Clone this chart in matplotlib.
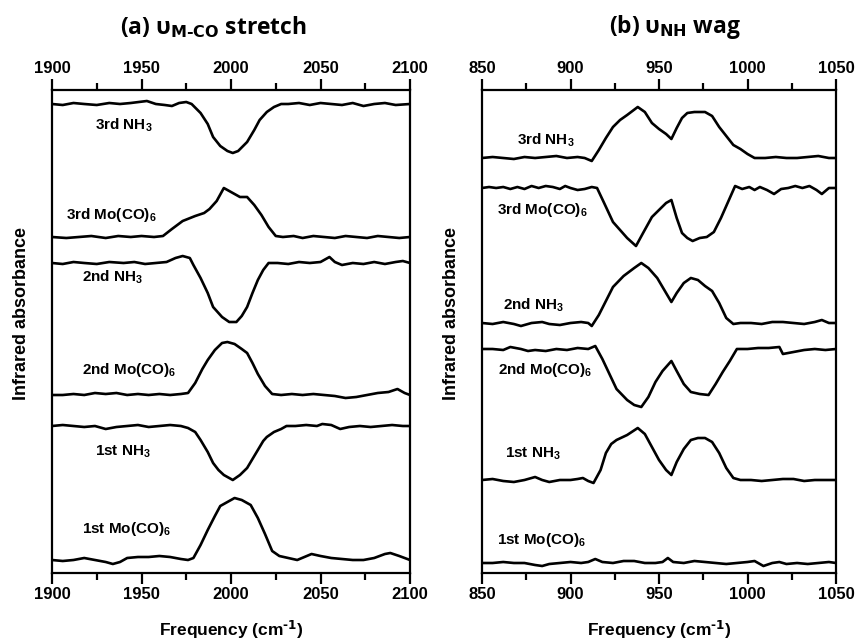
import matplotlib.pyplot as plt
from matplotlib.ticker import MultipleLocator

plt.rcParams["font.family"] = ["Liberation Sans", "DejaVu Sans"]
plt.rcParams["font.weight"] = "bold"
plt.rcParams["mathtext.default"] = "regular"

# ---------------------------------------------------------------------
#  Data: (frequency, absorbance change) pairs,
#  absorbance in arbitrary units relative to each trace's baseline
# ---------------------------------------------------------------------
# (a) M-CO stretch region
mco_1st_moco6 = [(1900, 0), (1906, -1), (1912, 0), (1918, 2), (1924, 0), (1930, -2), (1934, -4),
                 (1938, -2), (1942, 2), (1948, 3), (1954, 3), (1960, 4), (1966, 3), (1972, 1),
                 (1976, 0), (1979, 2), (1983, 15), (1987, 30), (1991, 44), (1994, 54), (1998, 58),
                 (2002, 62), (2006, 60), (2011, 55), (2015, 42), (2019, 26), (2023, 9), (2027, 4),
                 (2032, 2), (2037, 0), (2041, 3), (2045, 6), (2050, 4), (2056, 2), (2062, 1),
                 (2068, 0), (2074, 0), (2080, 2), (2086, 6), (2089, 7), (2094, 4), (2100, 0)]
mco_1st_nh3 = [(1900, 0), (1906, 1), (1912, 0), (1918, -1), (1924, 0), (1930, -3), (1936, -1),
               (1942, 0), (1948, 1), (1954, -1), (1960, 0), (1966, 1), (1972, 0), (1976, -2),
               (1980, -6), (1983, -14), (1987, -26), (1990, -37), (1993, -44), (1996, -49),
               (2001, -54), (2005, -49), (2009, -42), (2012, -33), (2015, -24), (2018, -15),
               (2020, -11), (2024, -6), (2028, -3), (2031, 0), (2036, 0), (2042, 1), (2048, 0),
               (2051, 2), (2056, 1), (2061, -3), (2066, -1), (2072, 0), (2078, -1), (2084, 0),
               (2090, 1), (2096, 0), (2100, 0)]
mco_2nd_moco6 = [(1900, 0), (1906, 0), (1912, 1), (1918, 0), (1924, 2), (1930, 1), (1936, 2),
                 (1942, 0), (1948, 1), (1954, 0), (1960, 1), (1966, 0), (1972, 1), (1976, 2),
                 (1980, 12), (1984, 26), (1987, 35), (1991, 45), (1995, 52), (1998, 53),
                 (2002, 51), (2006, 46), (2009, 42), (2012, 32), (2015, 21), (2019, 9), (2023, 1),
                 (2028, 0), (2034, 1), (2040, 0), (2046, 1), (2052, 0), (2058, -1), (2064, -3),
                 (2070, -2), (2076, 0), (2082, 2), (2088, 3), (2093, 6), (2097, 2), (2100, 0)]
mco_2nd_nh3 = [(1900, 0), (1906, -1), (1912, 1), (1918, 0), (1925, -1), (1932, 1), (1940, 0),
               (1946, 1), (1952, -1), (1958, 0), (1964, 1), (1969, 5), (1973, 7), (1977, 5),
               (1979, -2), (1983, -15), (1987, -30), (1990, -44), (1995, -54), (1999, -59),
               (2003, -59), (2006, -53), (2009, -44), (2012, -30), (2015, -17), (2018, -7),
               (2021, 0), (2026, 0), (2032, -1), (2038, 1), (2044, 0), (2050, 1), (2055, 6),
               (2058, 1), (2062, -2), (2068, 0), (2074, -1), (2080, 1), (2086, -1), (2092, 1),
               (2096, 2), (2100, 0)]
mco_3rd_moco6 = [(1900, 0), (1908, -1), (1915, 0), (1922, 1), (1930, -1), (1937, 1), (1944, 0),
                 (1950, 1), (1957, 0), (1962, 1), (1967, 8), (1973, 16), (1980, 21), (1985, 24),
                 (1988, 28), (1992, 36), (1996, 49), (2000, 45), (2005, 40), (2009, 40),
                 (2013, 32), (2017, 22), (2021, 10), (2025, 1), (2029, 0), (2035, 1), (2040, -1),
                 (2046, 1), (2052, 0), (2058, -1), (2064, 1), (2070, 0), (2076, -1), (2082, 1),
                 (2088, 0), (2094, -1), (2100, 0)]
mco_3rd_nh3 = [(1900, 0), (1906, -1), (1912, 1), (1918, 0), (1925, -1), (1932, 1), (1938, 0),
               (1944, 1), (1953, 3), (1958, 0), (1963, -1), (1967, -2), (1971, 1), (1975, 2),
               (1978, 0), (1983, -9), (1987, -20), (1990, -33), (1994, -42), (1998, -47),
               (2001, -49), (2004, -47), (2009, -38), (2013, -26), (2016, -16), (2020, -8),
               (2024, -3), (2028, 0), (2032, 0), (2038, 1), (2044, -1), (2050, 1), (2056, 0),
               (2062, -1), (2068, 1), (2074, -2), (2080, 0), (2086, 1), (2092, -1), (2100, 0)]

# (b) NH wag region
nh_1st_moco6 = [(850, 0), (856, 0), (862, 1), (868, 0), (874, 0), (880, -2), (884, -3), (888, -1),
                (894, 0), (900, 1), (906, 0), (910, 1), (914, 4), (918, 1), (924, 0), (930, 2),
                (936, 2), (942, 0), (948, 0), (952, 1), (955, 5), (958, 1), (964, 0), (970, 2),
                (976, 1), (982, 0), (988, -1), (994, 0), (1000, 1), (1004, 2), (1009, -3),
                (1014, 0), (1018, 1), (1022, -1), (1028, 0), (1034, -1), (1040, 0), (1046, 1),
                (1050, 0)]
nh_1st_nh3 = [(850, 0), (856, 1), (862, -1), (868, -2), (874, 0), (880, 3), (884, 0), (888, -2),
              (894, 0), (900, 0), (904, 1), (907, 2), (910, -1), (913, -3), (917, 10), (920, 27),
              (923, 36), (926, 40), (932, 45), (938, 52), (942, 46), (946, 33), (950, 20),
              (954, 10), (957, 5), (960, 18), (964, 31), (968, 40), (972, 42), (976, 42),
              (980, 38), (984, 27), (988, 12), (992, 2), (996, 0), (1002, 0), (1008, -1),
              (1014, 0), (1020, 1), (1026, 1), (1032, -1), (1038, 0), (1044, 0), (1050, 0)]
nh_2nd_moco6 = [(850, 0), (856, 0), (862, -1), (866, 2), (872, 0), (876, -2), (880, -1),
                (886, -2), (892, 0), (898, -1), (904, 1), (910, 0), (914, 3), (918, -10),
                (922, -25), (926, -40), (932, -51), (936, -56), (940, -58), (944, -48),
                (948, -33), (952, -22), (957, -12), (960, -22), (964, -35), (968, -43),
                (973, -45), (978, -46), (982, -35), (986, -23), (990, -12), (994, 0), (1000, 0),
                (1006, 1), (1012, 1), (1018, 2), (1020, -5), (1026, -3), (1032, -1), (1038, 0),
                (1044, -1), (1050, 0)]
nh_2nd_nh3 = [(850, 0), (856, -1), (862, 1), (868, -1), (872, -3), (878, 0), (884, 1), (888, -1),
              (894, -2), (900, 0), (906, 1), (910, 0), (912, -3), (916, 8), (920, 22), (924, 36),
              (930, 47), (936, 55), (940, 60), (944, 55), (949, 45), (953, 33), (957, 21),
              (960, 30), (964, 40), (968, 45), (972, 43), (976, 37), (980, 32), (984, 20),
              (988, 5), (992, -1), (996, 0), (1002, 0), (1008, -1), (1014, 1), (1020, 1),
              (1026, 0), (1032, -1), (1038, 1), (1042, 3), (1046, 0), (1050, 0)]
nh_3rd_moco6 = [(850, 0), (854, 1), (858, 0), (862, 1), (866, -1), (870, 1), (874, -1), (878, 2),
                (882, 0), (886, 2), (890, 1), (894, -1), (897, 2), (900, 0), (904, -2),
                (908, -1), (912, 1), (915, 0), (919, -15), (924, -34), (928, -42), (932, -50),
                (937, -58), (941, -45), (946, -29), (950, -22), (954, -15), (957, -12),
                (960, -30), (963, -45), (966, -50), (969, -53), (973, -50), (977, -49),
                (981, -44), (985, -30), (989, -14), (993, 2), (997, -1), (1001, 1), (1004, -2),
                (1007, 1), (1011, -2), (1015, -6), (1019, -1), (1023, 0), (1027, 2), (1031, 0),
                (1035, 2), (1039, -2), (1042, -6), (1046, 0), (1050, 0)]
nh_3rd_nh3 = [(850, 0), (856, 1), (862, 0), (868, -1), (874, 1), (880, 0), (886, 1), (892, 2),
              (898, 0), (904, 1), (908, 0), (912, -3), (916, 8), (920, 20), (924, 31), (928, 38),
              (932, 43), (938, 51), (942, 46), (946, 35), (950, 29), (954, 24), (957, 19),
              (960, 30), (963, 40), (966, 45), (970, 46), (976, 46), (980, 42), (984, 31),
              (988, 22), (992, 13), (996, 9), (1000, 4), (1004, 0), (1010, 0), (1016, 1),
              (1022, 0), (1028, 0), (1034, 1), (1040, 2), (1046, 0), (1050, 0)]

trace_labels = ["1st Mo(CO)$_6$", "1st NH$_3$", "2nd Mo(CO)$_6$",
                "2nd NH$_3$", "3rd Mo(CO)$_6$", "3rd NH$_3$"]
mco_traces = [mco_1st_moco6, mco_1st_nh3, mco_2nd_moco6, mco_2nd_nh3, mco_3rd_moco6, mco_3rd_nh3]
nh_traces = [nh_1st_moco6, nh_1st_nh3, nh_2nd_moco6, nh_2nd_nh3, nh_3rd_moco6, nh_3rd_nh3]

# vertical stacking offsets and label anchors
mco_offsets = [13, 147, 178, 310, 336, 469]
nh_offsets = [10, 93, 224, 250, 385, 415]
mco_label_pos = [(1917, 44), (1924, 121), (1917, 203), (1917, 296), (1908, 358), (1924, 448)]
nh_label_pos = [(858.5, 33), (863, 119), (859, 203), (862, 268), (858.5, 363), (870, 433)]


def draw_panel(ax, traces, offsets, label_pos, xlim):
    for tr, off, lab, (lx, ly) in zip(traces, offsets, trace_labels, label_pos):
        xs = [p[0] for p in tr]
        ys = [p[1] + off for p in tr]
        ax.plot(xs, ys, color="black", lw=1.9)
        ax.text(lx, ly, lab, fontsize=11, fontweight="bold", ha="left", va="center")
    ax.set_xlim(*xlim)
    ax.set_ylim(0, 483)
    ax.xaxis.set_major_locator(MultipleLocator(50))
    ax.xaxis.set_minor_locator(MultipleLocator(25))
    ax.tick_params(axis="x", which="both", direction="out", top=True, bottom=True,
                   labeltop=True, labelbottom=True, width=1.6, labelsize=12, pad=2)
    ax.tick_params(axis="x", which="major", length=8)
    ax.tick_params(axis="x", which="minor", length=5)
    ax.set_yticks([])
    for s in ax.spines.values():
        s.set_linewidth(1.6)


fig = plt.figure(figsize=(8.56, 6.41), dpi=100)
ax_a = fig.add_axes([52 / 856, 68 / 641, 358 / 856, 483 / 641])
ax_b = fig.add_axes([482 / 856, 68 / 641, 354 / 856, 483 / 641])

draw_panel(ax_a, mco_traces, mco_offsets, mco_label_pos, (1900, 2100))
draw_panel(ax_b, nh_traces, nh_offsets, nh_label_pos, (850, 1050))

# axis titles placed in figure pixels (reference layout)
for cx in (231, 659):
    fig.text(cx / 856, 1 - 630 / 641, r"Frequency (cm$^{\text{-1}}$)", fontsize=12.5,
             fontweight="bold", ha="center", va="center")
for cx in (22, 452):
    fig.text(cx / 856, 1 - 314 / 641, "Infrared absorbance", fontsize=13,
             fontweight="bold", ha="center", va="center", rotation=90)

title_font = ["Open Sans", "DejaVu Sans"]
fig.text(214 / 856, 1 - 27 / 641, r"(a) υ$_{\text{M-CO}}$ stretch", family=title_font,
         fontsize=16.5, fontweight="bold", ha="center", va="center")
fig.text(675 / 856, 1 - 27 / 641, r"(b) υ$_{\text{NH}}$ wag", family=title_font,
         fontsize=16.5, fontweight="bold", ha="center", va="center")

fig.savefig("out.png", dpi=100)
